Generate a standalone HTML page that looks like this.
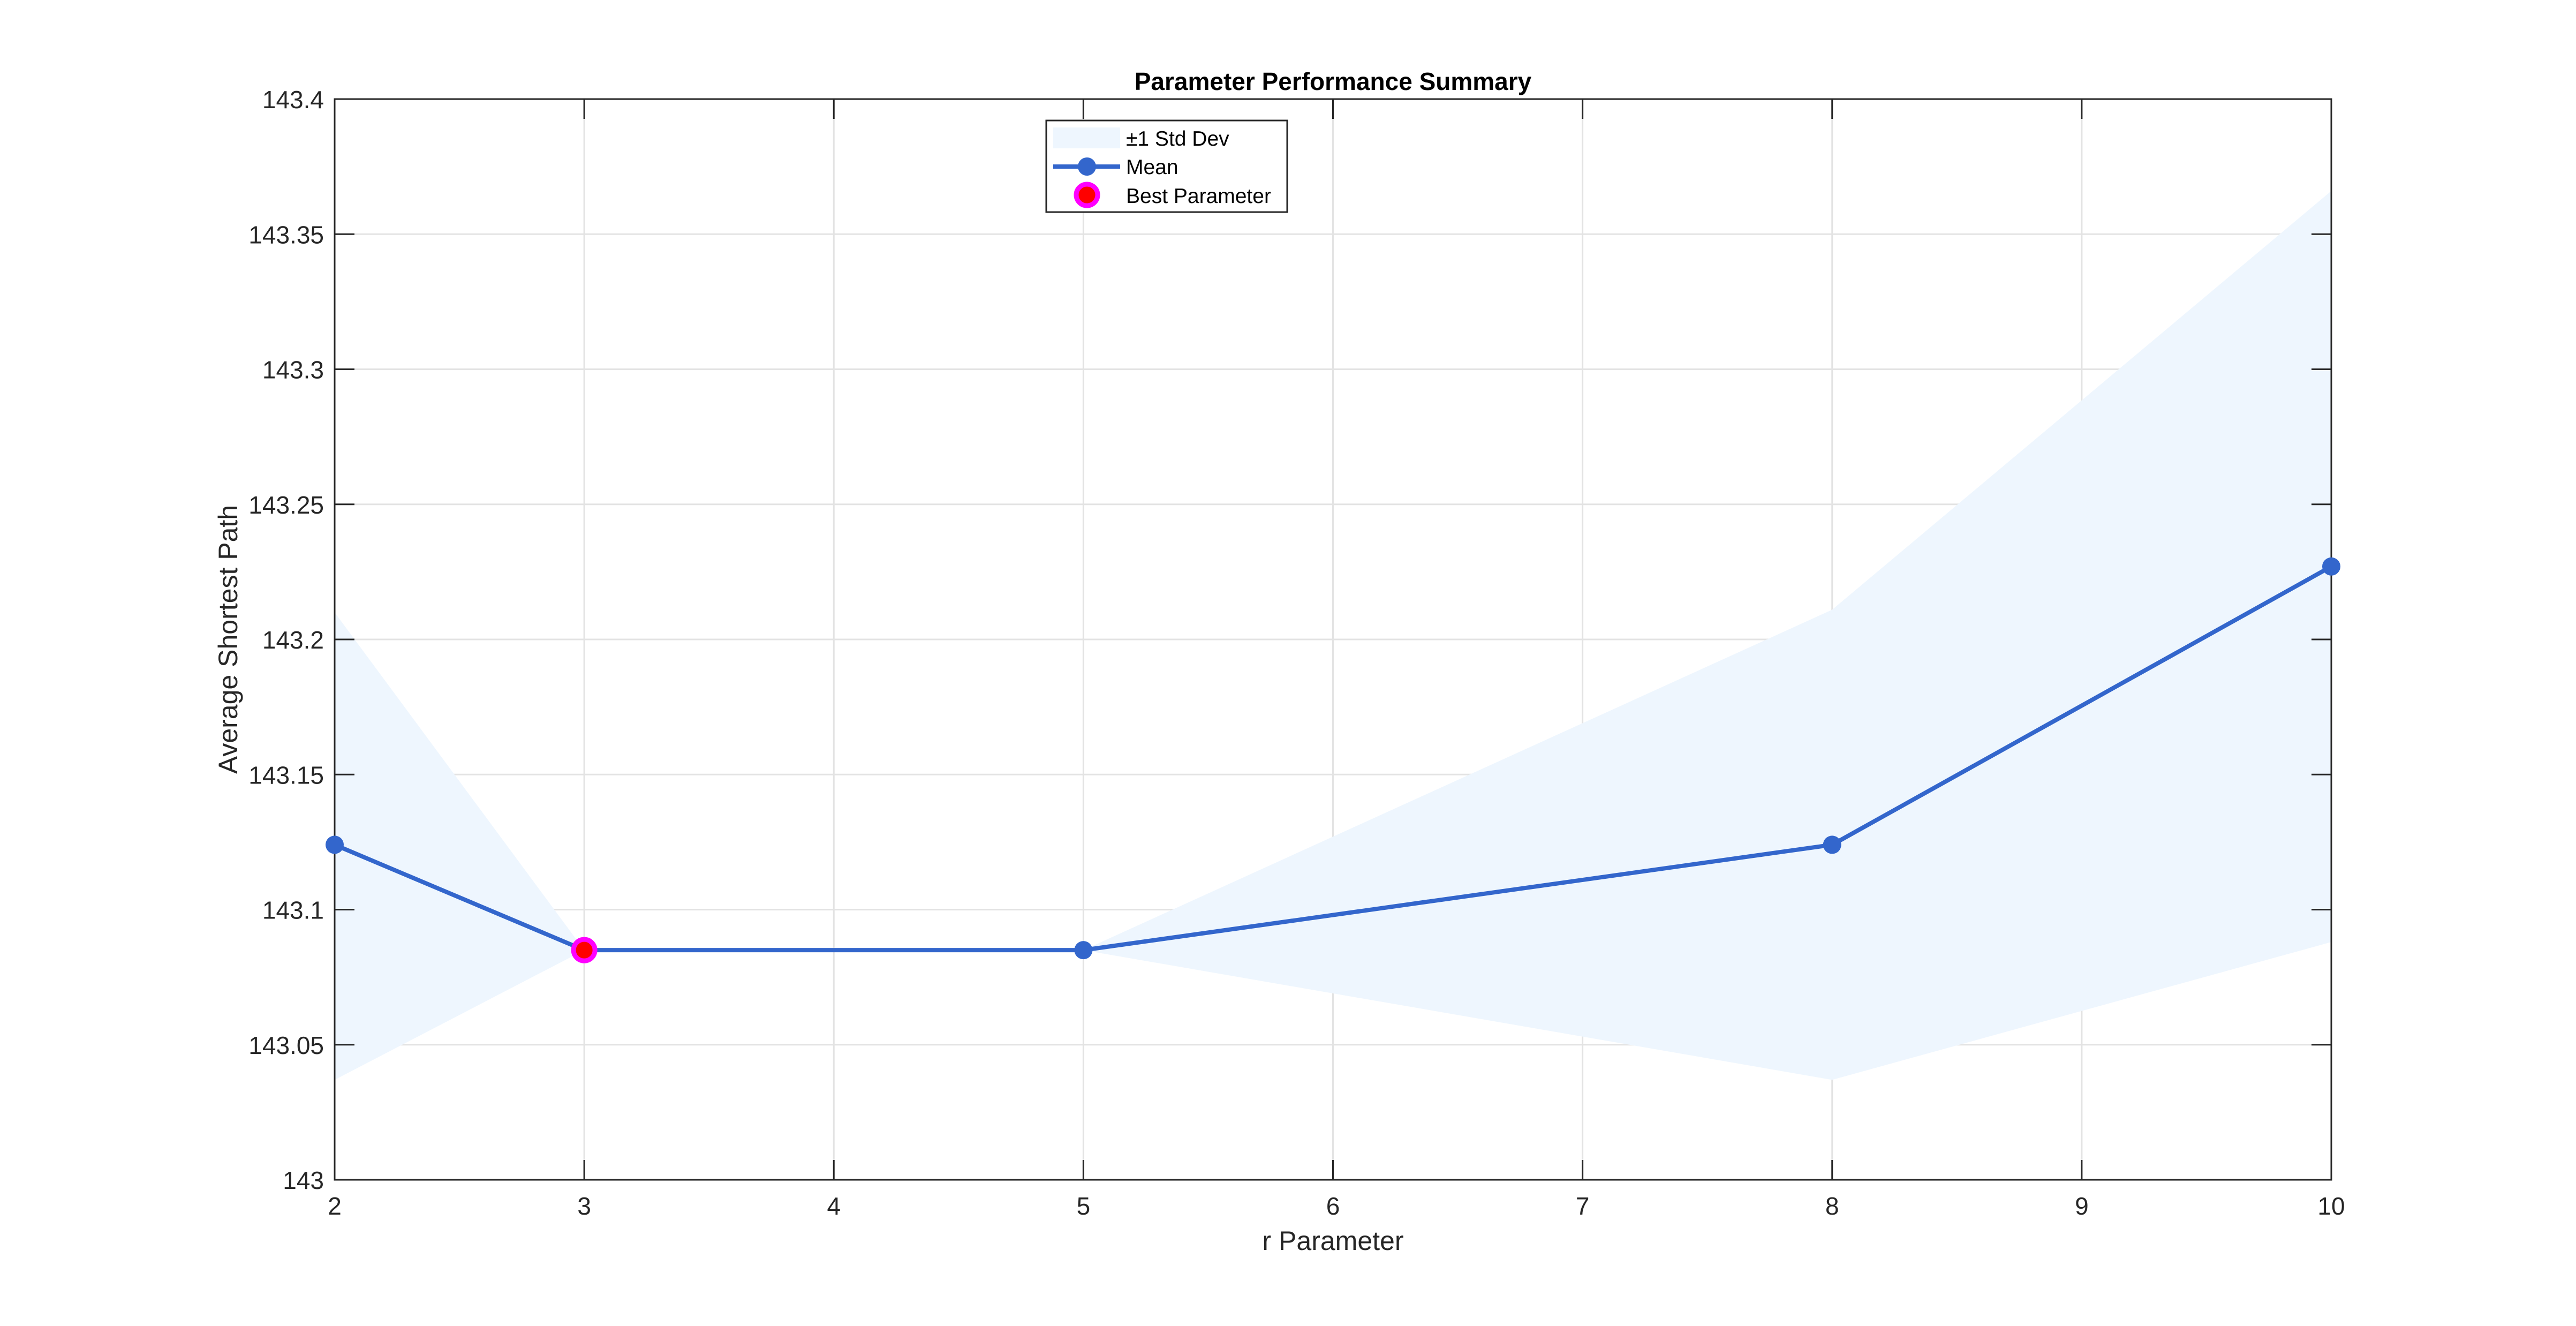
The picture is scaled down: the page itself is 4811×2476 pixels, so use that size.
<!DOCTYPE html>
<html><head><meta charset="utf-8"><style>
html,body{margin:0;padding:0;background:#fff;}
svg{display:block;font-family:"Liberation Sans",Arial,sans-serif;}
</style></head><body>
<svg id="chart" width="4811" height="2476" viewBox="0 0 4811 2476"></svg>
<script>
const xValues=[2,3,5,8,10];
const meanValues=[143.124,143.085,143.085,143.124,143.227];
const upperValues=[143.210,143.085,143.085,143.211,143.366];
const lowerValues=[143.037,143.085,143.085,143.037,143.088];
const bestX=[3];
const bestY=[143.085];
const xTicks=[2,3,4,5,6,7,8,9,10];
const yTicks=[143,143.05,143.1,143.15,143.2,143.25,143.3,143.35,143.4];
const yTickLabels=["143","143.05","143.1","143.15","143.2","143.25","143.3","143.35","143.4"];

const L=625,R=4354,T=185,B=2203;
const xMin=2,xMax=10,yMin=143,yMax=143.4;
const sx=v=>L+(v-xMin)/(xMax-xMin)*(R-L);
const sy=v=>B-(v-yMin)/(yMax-yMin)*(B-T);
const NS="http://www.w3.org/2000/svg";
const svg=document.getElementById('chart');
function mk(tag,attrs,parent){const e=document.createElementNS(NS,tag);for(const k in attrs)e.setAttribute(k,attrs[k]);(parent||svg).appendChild(e);return e;}

const bg=mk('rect',{x:L,y:T,width:R-L,height:B-T,fill:'#fff'});



// grid
xTicks.forEach(t=>{const g=mk('line',{x1:sx(t),x2:sx(t),y1:T,y2:B,stroke:'#e3e3e3','stroke-width':3});

});
yTicks.forEach(t=>{const g=mk('line',{x1:L,x2:R,y1:sy(t),y2:sy(t),stroke:'#e3e3e3','stroke-width':3});

});

// band
let pts=xValues.map((x,i)=>sx(x)+','+sy(upperValues[i]));
for(let i=xValues.length-1;i>=0;i--)pts.push(sx(xValues[i])+','+sy(lowerValues[i]));
const band=mk('polygon',{points:pts.join(' '),fill:'#eef6fe',stroke:'none'});



// axes box and ticks
const box=mk('rect',{x:L,y:T,width:R-L,height:B-T,fill:'none',stroke:'#262626','stroke-width':3});


xTicks.forEach(t=>{
 mk('line',{x1:sx(t),x2:sx(t),y1:B,y2:B-37,stroke:'#262626','stroke-width':3});
 mk('line',{x1:sx(t),x2:sx(t),y1:T,y2:T+37,stroke:'#262626','stroke-width':3});
 const tx=mk('text',{x:sx(t),y:2268,'font-size':46,fill:'#262626','text-anchor':'middle'});
 tx.textContent=t;
 
 
});
yTicks.forEach((t,i)=>{
 mk('line',{x1:L,x2:L+37,y1:sy(t),y2:sy(t),stroke:'#262626','stroke-width':3});
 mk('line',{x1:R,x2:R-37,y1:sy(t),y2:sy(t),stroke:'#262626','stroke-width':3});
 const tx=mk('text',{x:605,y:sy(t)+17,'font-size':46,fill:'#262626','text-anchor':'end'});
 tx.textContent=yTickLabels[i];
 
 
});

// mean line
const line=mk('polyline',{points:xValues.map((x,i)=>sx(x)+','+sy(meanValues[i])).join(' '),fill:'none',stroke:'#3366cc','stroke-width':8,'stroke-linejoin':'round'});


xValues.forEach((x,i)=>{const c=mk('circle',{cx:sx(x),cy:sy(meanValues[i]),r:17,fill:'#3366cc'});

});
bestX.forEach((x,i)=>{const c=mk('circle',{cx:sx(x),cy:sy(bestY[i]),r:20,fill:'#ff0000',stroke:'#ff00ff','stroke-width':9});

});

// titles
const title=mk('text',{x:(L+R)/2,y:168,'font-size':46,'font-weight':'bold',fill:'#000','text-anchor':'middle'});
title.textContent='Parameter Performance Summary';


const xl=mk('text',{x:(L+R)/2,y:2334,'font-size':50,fill:'#262626','text-anchor':'middle'});
xl.textContent='r Parameter';


const yl=mk('text',{x:0,y:0,'font-size':50,fill:'#262626','text-anchor':'middle',transform:'translate(443,'+((T+B)/2)+') rotate(-90)'});
yl.textContent='Average Shortest Path';



// legend
const lg=mk('g',{});


mk('rect',{x:1954,y:225,width:450,height:171,fill:'#fff',stroke:'#262626','stroke-width':3},lg);
mk('rect',{x:1967,y:238,width:125,height:39,fill:'#eef6fe'},lg);
mk('line',{x1:1967,x2:2092,y1:311,y2:311,stroke:'#3366cc','stroke-width':8},lg);
mk('circle',{cx:2030,cy:311,r:17,fill:'#3366cc'},lg);
mk('circle',{cx:2030,cy:364,r:20,fill:'#ff0000',stroke:'#ff00ff','stroke-width':9},lg);
[['±1 Std Dev',272],['Mean',325],['Best Parameter',379]].forEach(([s,y])=>{
 const t=mk('text',{x:2103,y:y,'font-size':39,fill:'#000'},lg);
 t.textContent=s;
 
 
});
</script>
</body></html>
